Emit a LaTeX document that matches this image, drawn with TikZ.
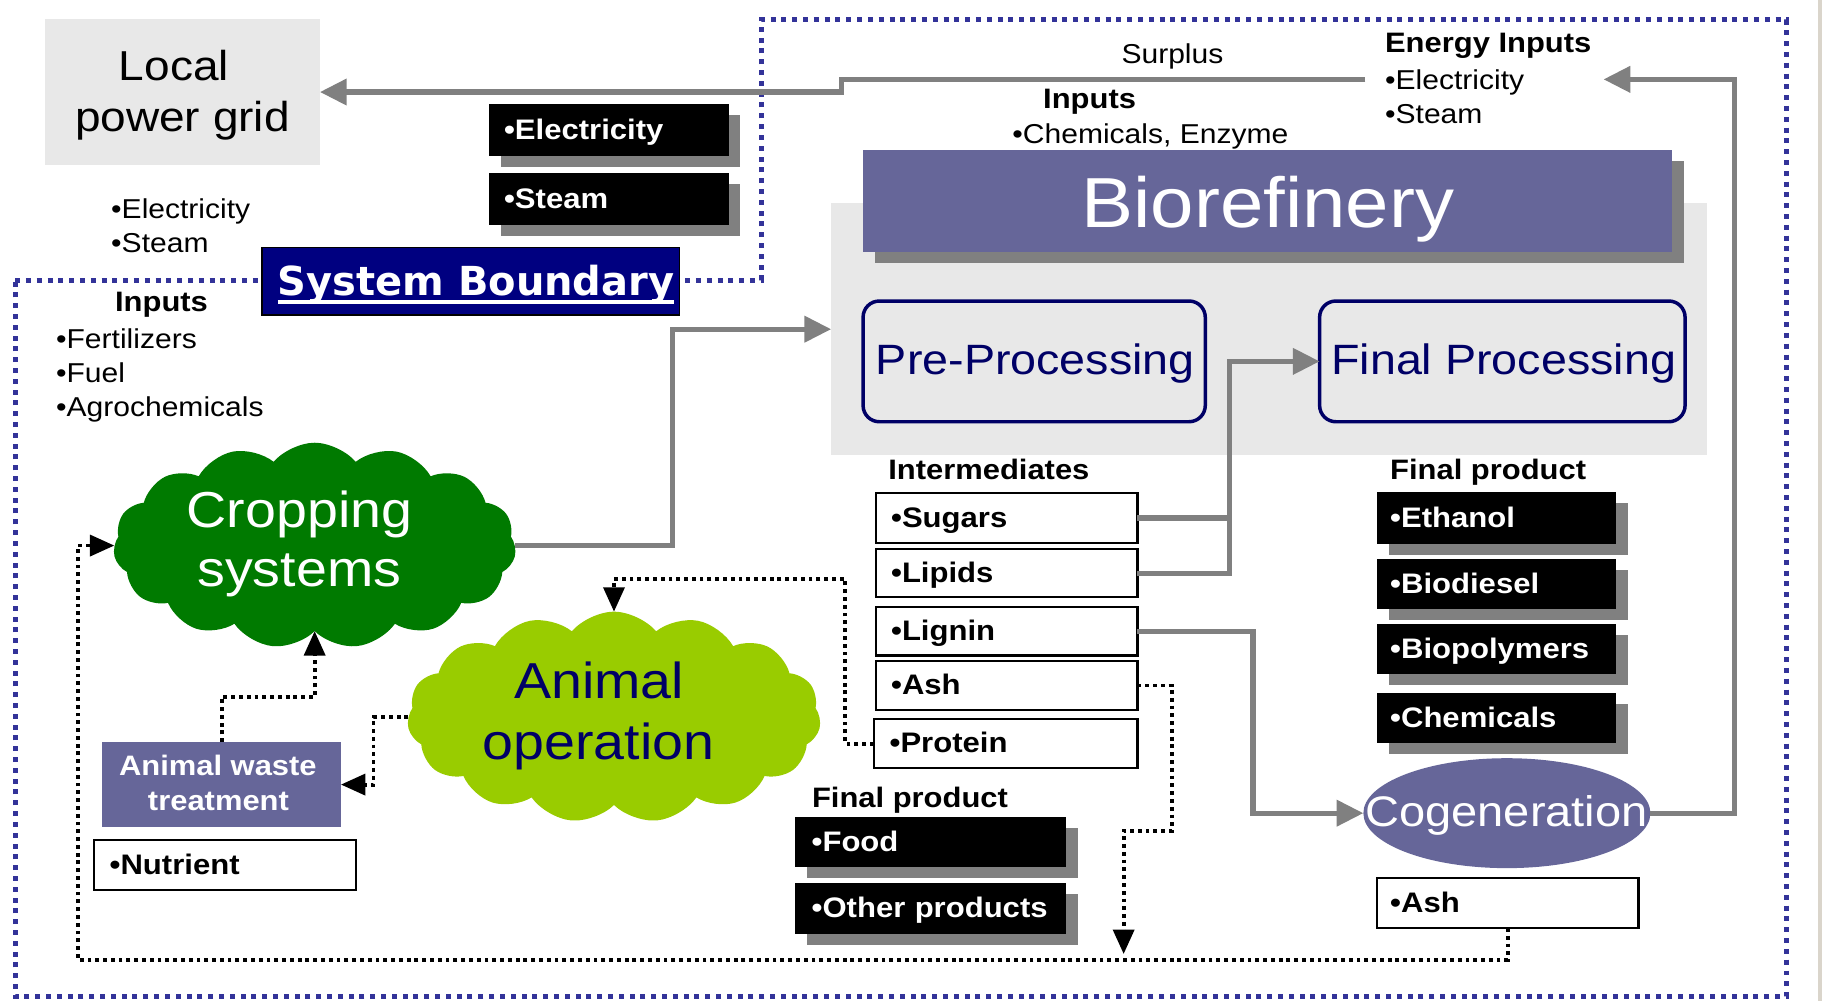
\documentclass[tikz,border=0pt]{standalone}
\usepackage{fontspec}
\setmainfont{Liberation Sans}[FakeStretch=1.1]
\newfontfamily\sbfont{DejaVu Sans}
\usetikzlibrary{arrows.meta,shapes.symbols,shapes.geometric,shadows,calc}
\definecolor{linegray}{HTML}{808080}
\definecolor{panelgray}{HTML}{E8E8E8}
\definecolor{purplebox}{HTML}{666699}
\definecolor{navytext}{HTML}{000066}
\definecolor{sysnavy}{HTML}{000080}
\definecolor{boundblue}{HTML}{333399}
\definecolor{cropgreen}{HTML}{007A00}
\definecolor{animalgreen}{HTML}{99CC00}
\definecolor{edgebeige}{HTML}{DAD5CB}
\newcommand\fsz[1]{\fontsize{#1pt}{#1pt}\selectfont}
\begin{document}
\begin{tikzpicture}[x=1pt,y=-1pt,
  every node/.style={inner sep=0pt, outer sep=0pt},
  txt/.style={anchor=base},
  txtl/.style={anchor=base west},
  reg/.style={font=\fsz{23.5}},
  bld/.style={font=\bfseries\fsz{24.2}},
  shadowed/.style={drop shadow={shadow xshift=10pt, shadow yshift=-9.5pt, opacity=1, fill=linegray}},
  blackbox/.style={rectangle, fill=black, text=white, font=\bfseries\fsz{24.3}, align=left, text height=20pt, text depth=4pt, shadowed},
  whitebox/.style={rectangle, fill=white, draw=black, line width=2pt, text=black, font=\bfseries\fsz{24.3}, align=left, text height=20pt, text depth=4pt},
  procbox/.style={rectangle, rounded corners=14pt, draw=navytext, line width=3pt},
  grayarrow/.style={draw=linegray, line width=4.5pt, -{Triangle[length=23pt,width=22pt]}},
  grayline/.style={draw=linegray, line width=4.5pt},
  dotarrow/.style={draw=black, line width=3.3pt, dash pattern=on 3.3pt off 3.4pt, -{Triangle[length=21pt,width=18pt]}},
  boundary/.style={draw=boundblue, line width=4.3pt, dash pattern=on 4.3pt off 5pt},
  cloudshape/.style={cloud, cloud puffs=15, cloud puff arc=100, cloud ignores aspect}
]
\useasboundingbox (0,0) rectangle (1568,861.4);
\fill[white] (0,0) rectangle (1568,861.4);
\fill[edgebeige] (1564.5,0) rectangle (1568,861.4);

% system boundary
\draw[boundary] (13,241) -- (655,241) -- (655,17) -- (1537.6,17) -- (1537.6,857.4) -- (13,857.4) -- cycle;

% local power grid
\node[rectangle, fill=panelgray, minimum width=236.7pt, minimum height=125.6pt] (grid) at (157,79.2) {};
\node[txt, font=\fsz{36}] (gridtxta) at (149.7,69) {Local};
\node[txt, font=\fsz{36}] (gridtxtb) at (157,113) {power grid};

\node[txt, reg] (surplus) at (1009,55) {Surplus};
\node[txtl, bld] (energyhead) at (1192,45) {Energy Inputs};
\node[txtl, reg] (energyelec) at (1192,77) {•Electricity};
\node[txtl, reg] (energysteam) at (1192,106) {•Steam};
\node[txt, bld] (bioinputs) at (937.7,93.2) {Inputs};
\node[txt, reg] (biochem) at (990,123.3) {•Chemicals, Enzyme};

\node[blackbox, minimum width=206pt, minimum height=44.5pt, inner xsep=12.8pt, text width=180.4pt] (elecbox) at (524,111.75) {•Electricity};
\node[blackbox, minimum width=206pt, minimum height=45pt, inner xsep=12.8pt, text width=180.4pt] (steambox) at (524,171.1) {•Steam};

\node[txtl, reg] (gridelec) at (95.7,188) {•Electricity};
\node[txtl, reg] (gridsteam) at (95.7,217) {•Steam};

% system boundary label
\node[rectangle, fill=sysnavy, draw=black, line width=1pt, minimum width=359.5pt, minimum height=58.3pt] (sysbox) at (405.25,242) {};
\node[txt, font=\sbfont\bfseries\fsz{34.4}, text=white] (sysbtext) at (409.7,254) {System Boundary};
\draw[white, line width=3.5pt] ([yshift=-5.6pt]sysbtext.base west) -- ([yshift=-5.6pt]sysbtext.base east);

\node[txt, bld] (cropinputs) at (139,268) {Inputs};
\node[txtl, reg] (fert) at (48.3,299.7) {•Fertilizers};
\node[txtl, reg] (fuel) at (48.3,329.3) {•Fuel};
\node[txtl, reg] (agro) at (48.3,358.6) {•Agrochemicals};

% biorefinery
\node[rectangle, fill=panelgray, minimum width=753.7pt, minimum height=216.6pt] (bioback) at (1092.15,283.3) {};
\node[rectangle, fill=purplebox, shadowed, minimum width=696pt, minimum height=88.4pt] (bioheader) at (1091,173) {};
\node[txt, font=\fsz{61}, text=white] (biotxt) at (1091,196) {Biorefinery};
\node[procbox, minimum width=294.5pt, minimum height=103.9pt] (preproc) at (890,311) {};
\node[txt, font=\fsz{36.5}, text=navytext] (pretxt) at (891,322.7) {Pre-Processing};
\node[procbox, minimum width=314.5pt, minimum height=103.9pt] (finproc) at (1292.9,311) {};
\node[txt, font=\fsz{36.5}, text=navytext] (fintxt) at (1294,322.7) {Final Processing};

% intermediates
\node[txt, bld] (interhead) at (851,413) {Intermediates};
\node[whitebox, minimum width=225pt, minimum height=43.5pt, inner xsep=13pt, text width=199pt] (sugars) at (866.4,445.75) {•Sugars};
\node[whitebox, minimum width=225pt, minimum height=41.5pt, inner xsep=13pt, text width=199pt] (lipids) at (866.4,493.25) {•Lipids};
\node[whitebox, minimum width=225pt, minimum height=41.5pt, inner xsep=13pt, text width=199pt] (lignin) at (866.4,543.25) {•Lignin};
\node[whitebox, minimum width=225pt, minimum height=42pt, inner xsep=13pt, text width=199pt] (ash) at (866.4,590) {•Ash};
\node[whitebox, minimum width=227pt, minimum height=42pt, inner xsep=13.6pt, text width=199.8pt] (protein) at (865.5,640) {•Protein};

% final products right
\node[txtl, bld] (finalheadr) at (1196.4,413) {Final product};
\node[blackbox, minimum width=206pt, minimum height=44.4pt, inner xsep=11.4pt, text width=183.2pt] (ethanol) at (1288,445.8) {•Ethanol};
\node[blackbox, minimum width=206pt, minimum height=43pt, inner xsep=11.4pt, text width=183.2pt] (biodiesel) at (1288,502.5) {•Biodiesel};
\node[blackbox, minimum width=206pt, minimum height=43pt, inner xsep=11.4pt, text width=183.2pt] (biopoly) at (1288,558.5) {•Biopolymers};
\node[blackbox, minimum width=206pt, minimum height=43pt, inner xsep=11.4pt, text width=183.2pt] (chemicals) at (1288,618) {•Chemicals};

% cogeneration
\node[ellipse, fill=purplebox, minimum width=247pt, minimum height=94.6pt] (cogen) at (1296.8,699.8) {};
\node[txt, font=\fsz{36.8}, text=white] (cogentxt) at (1296.5,711) {Cogeneration};
\node[whitebox, minimum width=225pt, minimum height=43pt, inner xsep=11.4pt, text width=202.2pt] (ash2) at (1297.5,777.2) {•Ash};

% final products left
\node[txtl, bld] (finalheadl) at (698.8,695) {Final product};
\node[blackbox, minimum width=233pt, minimum height=43.3pt, inner xsep=14pt, text width=205pt] (food) at (801,724.4) {•Food};
\node[blackbox, minimum width=233pt, minimum height=43.8pt, inner xsep=14pt, text width=205pt] (other) at (801,781.9) {•Other products};

% clouds
\node[cloudshape, fill=cropgreen, minimum width=346.5pt, minimum height=177pt] (crop) at (270.8,469.5) {};
\node[txt, font=\fsz{43.5}, text=white] (croptxta) at (257.8,453.8) {Cropping};
\node[txt, font=\fsz{43.5}, text=white] (croptxtb) at (257.5,504.9) {systems};
\node[cloudshape, fill=animalgreen, minimum width=355.8pt, minimum height=181.6pt] (animal) at (528.4,617.2) {};
\node[txt, font=\fsz{43.5}, text=navytext] (animtxta) at (515.6,601) {Animal};
\node[txt, font=\fsz{43.5}, text=navytext] (animtxtb) at (515,654) {operation};

% animal waste treatment
\node[rectangle, fill=purplebox, minimum width=205.4pt, minimum height=73.1pt] (awt) at (190.7,675.2) {};
\node[txt, font=\bfseries\fsz{24.2}, text=white] (awttxta) at (187.5,667) {Animal waste};
\node[txt, font=\bfseries\fsz{24.2}, text=white] (awttxtb) at (188,697.5) {treatment};
\node[whitebox, minimum width=225.5pt, minimum height=43pt, inner xsep=13.4pt, text width=198.7pt] (nutrient) at (193.75,744.5) {•Nutrient};

% gray connectors
\coordinate (surplusstart) at (1175,68.3);
\coordinate (energytip) at (1380,68.3);
\draw[grayarrow] (surplusstart) -- (724.5,68.3) |- (grid.east);
\draw[grayarrow] (crop.east) -| (579,283.3) -- (bioback.west);
\draw[grayline] (sugars.east) -- ++(79,0);
\draw[grayarrow] (lipids.east) -- ++(79,0) |- (finproc.west);
\draw[grayarrow] (lignin.east) -- ++(99.5,0) |- (cogen.west);
\draw[grayarrow] (cogen.east) -- ++(72.5,0) |- (energytip);

% dotted connectors
\coordinate (ashtip) at (967,821);
\draw[dotarrow] (protein.west) -| (727.5,498.5) -| (animal.north);
\draw[dotarrow] (ash.east) -| (1008.6,715) -| (ashtip);
\draw[dotarrow] (ash2.south) |- (67,826) |- (crop.west);
\draw[dotarrow] (animal.west) -- ++(-30,0) |- (awt.east);
\draw[dotarrow] (awt.north) |- (crop.south |- 0,600) -- (crop.south);
\end{tikzpicture}
\end{document}
